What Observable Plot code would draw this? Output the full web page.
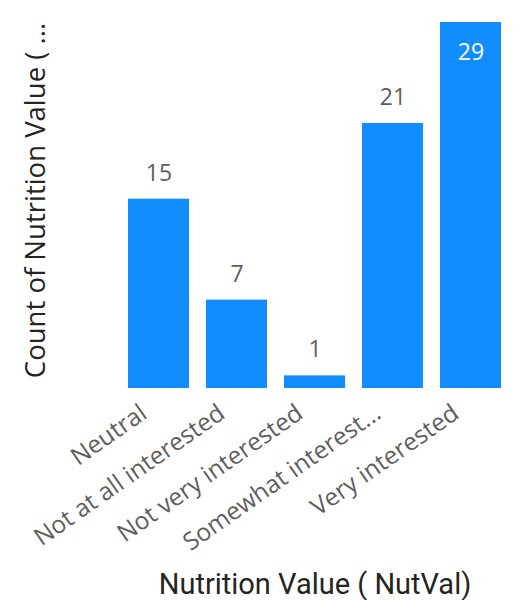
<!DOCTYPE html>
<html>
<head>
<meta charset="utf-8">
<script src="https://cdn.jsdelivr.net/npm/d3@7"></script>
<script src="https://cdn.jsdelivr.net/npm/@observablehq/plot@0.6"></script>
<style>
  html, body { margin: 0; padding: 0; background: #fff; }
  #chart svg { display: block; }
</style>
</head>
<body>
<div id="chart"></div>
<script>
const categories = ["Neutral", "Not at all interested", "Not very interested", "Somewhat interested", "Very interested"];
const tickLabels = ["Neutral", "Not at all interested", "Not very interested", "Somewhat interest...", "Very interested"];
const counts = [15, 7, 1, 21, 29];
const yTitle = "Count of Nutrition Value ( ...";
const xTitle = "Nutrition Value ( NutVal)";

const data = categories.map((c, i) => ({category: c, count: counts[i]}));
const maxCount = d3.max(counts);
const labelMap = new Map(categories.map((c, i) => [c, tickLabels[i]]));

const font = "'Open Sans', 'Noto Sans', sans-serif";

const chart = Plot.plot({
  width: 518,
  height: 600,
  marginTop: 22,
  marginBottom: 212,
  marginLeft: 119,
  marginRight: 8,
  style: {fontFamily: font, background: "#fff"},
  x: {domain: categories, paddingInner: 0.218, paddingOuter: 0.109, axis: null},
  y: {domain: [0, maxCount], axis: null},
  marks: [
    Plot.barY(data, {x: "category", y: "count", fill: "#118DFF"}),
    Plot.text(data.filter(d => d.count !== maxCount), {
      x: "category", y: "count", text: d => String(d.count),
      dy: -26, fill: "#605E5C", fontSize: 23
    }),
    Plot.text(data.filter(d => d.count === maxCount), {
      x: "category", y: "count", text: d => String(d.count),
      dy: 30, fill: "#ffffff", fontSize: 23
    }),
    Plot.axisX({
      tickSize: 0, tickRotate: -35, tickPadding: 22, dx: -15, fontSize: 24.5,
      fill: "#605E5C", label: null,
      tickFormat: d => labelMap.get(d)
    }),
    Plot.text([yTitle], {
      frameAnchor: "left", textAnchor: "middle", dx: -83, dy: -5, rotate: -90, fontSize: 27.5,
      fill: "#252423", text: d => d
    }),
    Plot.text([xTitle], {
      frameAnchor: "bottom", lineAnchor: "bottom", dy: 205, fontSize: 29,
      fill: "#252423", text: d => d, fontFamily: "Roboto, sans-serif"
    })
  ]
});
document.getElementById("chart").appendChild(chart);
</script>
</body>
</html>
